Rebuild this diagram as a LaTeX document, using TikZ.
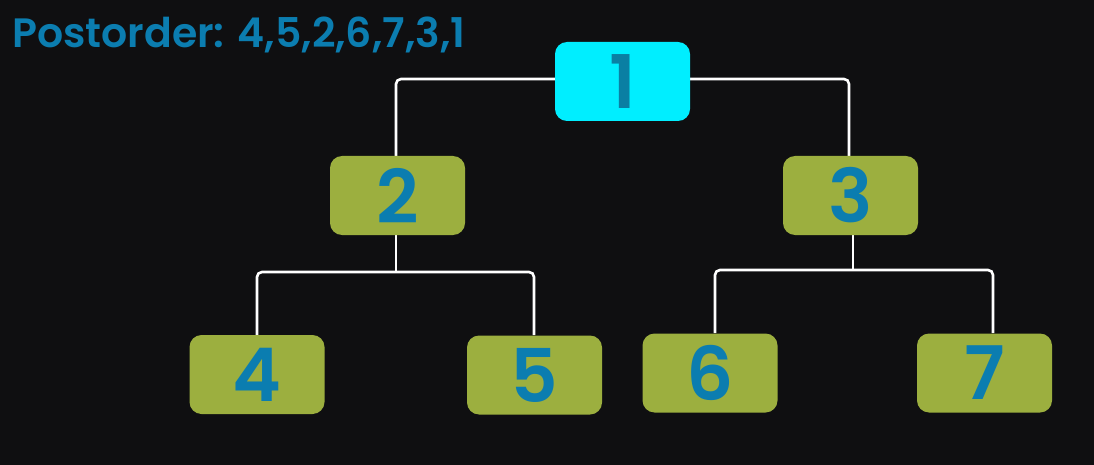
\documentclass[tikz,border=0pt]{standalone}
\usepackage{fontspec}
\newfontfamily\popfont{Poppins SemiBold}
\definecolor{bgc}{HTML}{0F0F11}
\definecolor{leafgreen}{HTML}{9CAF3F}
\definecolor{rootcyan}{HTML}{00EEFF}
\definecolor{digitblue}{HTML}{0B7DB0}
\definecolor{rootdigit}{HTML}{0A7FA3}
\begin{document}
\begin{tikzpicture}[x=1pt,y=-1pt,
  treenode/.style={rounded corners=12pt, minimum width=135pt, minimum height=79pt,
    inner sep=0pt, fill=leafgreen, text=digitblue, font=\popfont\fontsize{74}{74}\selectfont},
  rootnode/.style={treenode, fill=rootcyan, text=rootdigit},
  link/.style={draw=white, line width=2.6pt, rounded corners=5pt}]
\fill[bgc] (0,0) rectangle (1094,465);
\useasboundingbox (0,0) rectangle (1094,465);
\node[anchor=base west, text=digitblue, inner sep=0pt, font=\popfont\fontsize{41}{41}\selectfont] (title) at (12,48) {Postorder: 4,5,2,6,7,3,1};
% connectors first
\coordinate (j1l) at (396,79);
\coordinate (j1r) at (849,79);
\coordinate (j2) at (396,272);
\coordinate (j3) at (853,270);
\coordinate (t4) at (257,335);
\coordinate (t5) at (534,335);
\coordinate (t6) at (715,333);
\coordinate (t7) at (993,333);
\coordinate (b2) at (396,235);
\coordinate (b3) at (853,235);
\coordinate (s2) at (396,156);
\coordinate (s3) at (849,156);
\coordinate (r1l) at (600,79);
\coordinate (r1r) at (650,79);
\draw[link] (r1l) -- (j1l) -- (s2);
\draw[link] (r1r) -- (j1r) -- (s3);
\draw[link] (b2) -- (j2);
\draw[link] (t4) |- (j2) -| (t5);
\draw[link] (b3) -- (j3);
\draw[link] (t6) |- (j3) -| (t7);
% nodes
\node[rootnode] (n1) at (622.5,81.5) {1};
\node[treenode] (n2) at (397.5,195.5) {2};
\node[treenode] (n3) at (850.5,195.5) {3};
\node[treenode] (n4) at (257,374.5) {4};
\node[treenode] (n5) at (534.5,375) {5};
\node[treenode] (n6) at (710,373) {6};
\node[treenode] (n7) at (984.5,373) {7};
\end{tikzpicture}
\end{document}
